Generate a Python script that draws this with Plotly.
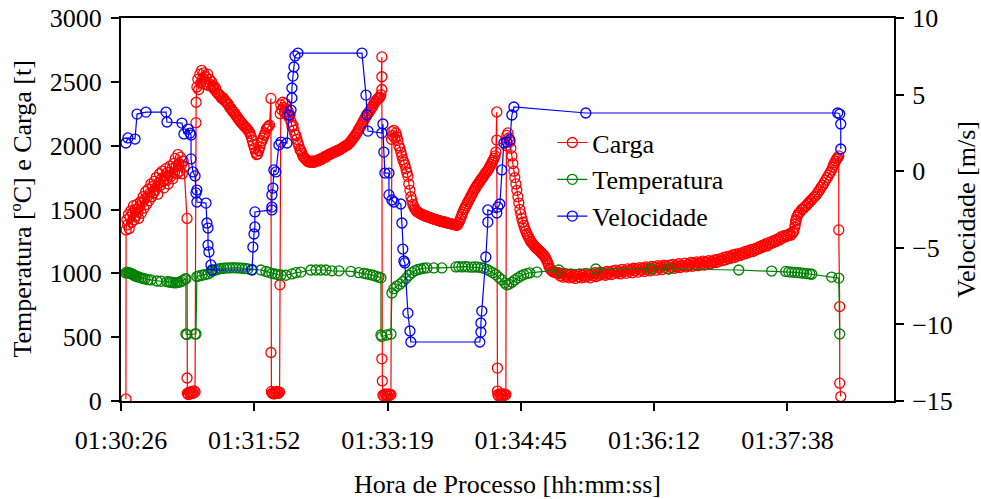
import plotly.graph_objects as go

# x = seconds after 01:30:26
tick_pos = [0, 86.4, 172.8, 259.2, 345.6, 432.0]
tick_labels = ["01:30:26", "01:31:52", "01:33:19", "01:34:45", "01:36:12", "01:37:38"]

carga_t = [3.2,
    3.3, 3.8, 4.3, 4.8, 5.3, 5.9, 6.4, 7.0, 7.5, 8.1, 8.6, 9.2, 9.7, 10.3, 10.9, 11.4, 12.0, 12.6, 13.1, 13.7,
    14.3, 14.8, 15.4, 16.0, 16.5, 17.1, 17.7, 18.2, 18.8, 19.4, 19.9, 20.5, 21.1, 21.6, 22.2, 22.8, 23.3, 23.9,
    24.5, 25.0, 25.6, 26.2, 26.7, 27.3, 27.9, 28.4, 29.0, 29.6, 30.1, 30.7, 31.3, 31.8, 32.4, 33.0, 33.5, 34.1,
    34.7, 35.2, 35.8, 36.4, 36.9, 37.5, 38.1, 38.6, 39.2, 39.8, 40.3, 40.9,
    42.8, 42.8, 43.0, 43.6, 44.2, 44.8, 45.4, 46.0, 46.7, 47.3, 48.0, 48.6, 48.7,
    49.2, 49.8, 50.4, 51.1, 51.7, 52.3, 53.0, 53.6, 54.2, 54.9, 55.5, 56.2, 56.8, 57.4,
    58.0, 58.7, 59.3, 60.0, 60.6, 61.3, 62.0, 62.7, 63.4, 64.1, 64.8, 65.5, 66.2, 66.9, 67.6, 68.3, 69.0, 69.7,
    70.4, 71.1, 71.8, 72.5, 73.2, 73.9, 74.6, 75.3, 76.0, 76.7, 77.4, 78.1, 78.8, 79.5, 80.2, 80.9, 81.6, 82.3,
    83.0, 83.7, 84.4, 85.1, 85.8, 86.5, 87.2, 87.9, 88.6, 89.3, 90.0, 90.7, 91.4, 92.1, 92.8, 93.5, 94.2, 94.9,
    95.6, 96.3,
    97.2, 97.2, 97.5, 98.0, 98.6, 99.2, 99.8, 100.4, 101.0, 101.6, 102.2, 102.8, 103.0, 103.2,
    103.6, 104.2, 104.8, 105.4, 106.0, 106.6, 107.2, 107.8, 108.4, 109.0, 109.6, 110.2, 110.8, 111.5, 112.1,
    112.7, 113.4, 114.0, 114.7, 115.3, 116.0, 116.6, 117.3, 117.9, 118.6, 119.2, 119.9, 120.5, 121.2, 121.8,
    122.5, 123.1, 123.8, 124.4, 125.1, 125.7, 126.4, 127.0, 127.7, 128.3, 129.0, 129.6, 130.3, 130.9, 131.6,
    132.2, 132.8, 133.5, 134.1, 134.8, 135.4, 136.1, 136.7, 137.4, 138.0, 138.7, 139.3, 140.0, 140.6, 141.3,
    141.9, 142.6, 143.2, 143.9, 144.5, 145.2, 145.8, 146.5, 147.1, 147.7, 148.4, 149.0, 149.7, 150.3, 151.0,
    151.6, 152.3, 152.9, 153.6, 154.2, 154.9, 155.5, 156.2, 156.8, 157.5, 158.1, 158.8, 159.4, 160.1, 160.7,
    161.4, 162.0, 162.7, 163.3, 164.0, 164.6, 165.3, 165.9, 166.6, 167.2, 167.9, 168.5,
    169.1, 169.1, 169.1, 169.1, 169.4, 169.8, 170.4, 171.1, 171.7, 172.4, 173.0, 173.7, 174.3, 175.0, 175.3,
    175.6, 176.2, 176.9, 177.5, 178.2, 178.8, 179.5, 180.1, 180.8, 181.4, 182.1, 182.7, 183.4, 184.0, 184.7,
    185.3, 186.0, 186.6, 187.3, 187.9, 188.6, 189.2, 189.9, 190.5, 191.2, 191.8, 192.5, 193.1, 193.8, 194.4,
    195.1, 195.7, 196.4, 197.0, 197.7, 198.3, 199.0, 199.6, 200.3, 200.9, 201.6, 202.2, 202.9, 203.5, 204.2,
    204.8, 205.5, 206.1, 206.8, 207.4, 208.1, 208.7, 209.4, 210.0, 210.7, 211.3, 212.0, 212.6, 213.3, 213.9,
    214.6, 215.2, 215.9, 216.5, 217.2, 217.8, 218.5, 219.1, 219.8, 220.4, 221.1, 221.7, 222.4, 223.0, 223.7,
    224.3, 225.0, 225.6, 226.3, 226.9, 227.6, 228.2, 228.9, 229.5, 230.2, 230.8, 231.5, 232.1, 232.8, 233.4,
    234.1, 234.7, 235.4, 236.0, 236.7, 237.3, 238.0, 238.6, 239.3, 239.9, 240.6, 241.2, 241.9, 242.5, 243.0,
    243.6, 243.6, 244.0, 244.0, 244.3, 244.9, 245.6, 246.2, 246.9, 247.5, 248.2, 248.8, 249.5, 249.8,
    250.1, 250.8, 251.4, 252.1, 252.7, 253.4, 254.0, 254.7, 255.3, 256.0, 256.6, 257.3, 257.9, 258.6, 259.2,
    259.8, 260.5, 261.1, 261.8, 262.4, 263.1, 263.7, 264.4, 265.0, 265.7, 266.3, 267.0, 267.6, 268.3, 268.9,
    269.6, 270.2, 270.9, 271.5, 272.2, 272.8, 273.5, 274.1, 274.8, 275.4, 276.0, 276.7, 277.3, 278.0, 278.6,
    279.3, 279.9, 280.6, 281.2, 281.9, 282.5, 283.2,
    283.8, 284.8, 285.8, 286.7, 287.7, 288.7, 289.7, 290.6, 291.6, 292.6, 293.5, 294.5, 295.5, 296.4, 297.4,
    298.4, 299.4, 300.3, 301.3, 302.3, 303.3, 304.2, 305.2, 306.2, 307.2, 308.1, 309.1, 310.0, 311.0, 312.0,
    313.0, 314.0, 314.9, 315.9, 316.9, 317.9, 318.8, 319.8, 320.8, 321.7, 322.7, 323.6, 324.6, 325.6, 326.6,
    327.5, 328.5, 329.5, 330.5, 331.4, 332.4, 333.4, 334.4, 335.3, 336.3, 337.3, 338.3, 339.2, 340.2, 341.1,
    342.1, 343.1, 344.1, 345.0, 346.0, 347.0, 348.0, 348.9, 349.9, 350.9, 351.9, 352.8, 353.8, 354.8, 355.8,
    356.7, 357.7, 358.7, 359.7, 360.6, 361.6, 362.5, 363.5, 364.5, 365.5, 366.4, 367.4, 368.4, 369.4, 370.3,
    371.3, 372.2, 373.2, 374.2, 375.2, 376.1, 377.1, 378.1, 379.1, 380.0, 381.0, 382.0, 383.0, 383.9, 384.9,
    385.9, 386.9, 387.8, 388.8, 389.7, 390.7, 391.7, 392.7, 393.6, 394.6, 395.6, 396.6, 397.5, 398.5, 399.5,
    400.5, 401.4, 402.4, 403.4, 404.4, 405.3, 406.3, 407.2, 408.2, 409.2, 410.2, 411.1, 412.1, 413.1, 414.1,
    415.0, 416.0, 417.0, 418.0, 418.9, 419.9, 420.8, 421.8, 422.8, 423.8, 424.7, 425.7, 426.7, 427.7, 428.6,
    429.6, 430.6, 431.6, 432.5, 433.5, 434.5, 435.5, 436.2, 436.8, 437.1, 437.4, 437.7, 438.0, 438.7, 439.3,
    440.3, 441.3, 442.2, 443.2, 444.2, 445.2, 446.1, 447.1, 448.1, 449.1, 450.0, 451.0, 452.0, 453.0, 453.9,
    454.9, 455.8, 456.8, 457.8, 458.8, 459.7, 460.7, 461.4, 462.0, 462.6, 463.3, 463.9, 464.6, 465.3,
    465.3, 465.9, 465.9, 466.6]

carga_v = [16,
    1340, 1420, 1380, 1460, 1350, 1440, 1490, 1400, 1470, 1530, 1420, 1500, 1450, 1540, 1480, 1430, 1520, 1560, 1470, 1550,
    1600, 1510, 1580, 1640, 1540, 1600, 1660, 1570, 1630, 1700, 1600, 1680, 1630, 1720, 1650, 1750, 1680, 1620,
    1710, 1780, 1690, 1740, 1800, 1720, 1670, 1760, 1820, 1730, 1790, 1700, 1770, 1840, 1760, 1820, 1740, 1860,
    1790, 1900, 1840, 1780, 1930, 1860, 1800, 1910, 1850, 1780, 1880, 1830,
    1430, 180, 60, 50, 70, 55, 65, 75, 60, 80, 70, 2180, 2340,
    2460, 2520, 2440, 2560, 2490, 2590, 2530, 2570, 2480, 2540, 2500, 2560, 2470, 2520,
    2480, 2500, 2460, 2470, 2440, 2450, 2420, 2410, 2400, 2395, 2380, 2370, 2375, 2355, 2350, 2340, 2330, 2320,
    2300, 2295, 2280, 2270, 2260, 2250, 2235, 2225, 2210, 2200, 2190, 2180, 2170, 2160, 2150, 2140, 2135, 2120,
    2110, 2095, 2070, 2040, 2010, 1980, 1950, 1930, 1935, 1960, 1990, 2020, 2040, 2060, 2080, 2100, 2130, 2140,
    2150, 2160,
    2370, 380, 75, 60, 65, 55, 70, 60, 75, 65, 60, 70, 910, 2250,
    2320, 2280, 2340, 2300, 2260, 2330, 2290, 2240, 2270, 2220, 2240, 2190, 2150, 2160, 2120,
    2090, 2080, 2050, 2020, 2000, 1970, 1960, 1940, 1920, 1910, 1900, 1890, 1885, 1875, 1880,
    1870, 1875, 1870, 1880, 1870, 1875, 1880, 1885, 1880, 1890, 1895, 1890, 1900, 1905, 1910,
    1915, 1910, 1920, 1925, 1930, 1935, 1935, 1940, 1945, 1950, 1950, 1955, 1960, 1965, 1965,
    1970, 1975, 1980, 1985, 1990, 1995, 2000, 2005, 2010, 2015, 2025, 2035, 2045, 2055, 2065,
    2075, 2090, 2100, 2115, 2130, 2140, 2155, 2170, 2185, 2200, 2215, 2225, 2240, 2255, 2260,
    2275, 2285, 2300, 2310, 2330, 2340, 2350, 2360, 2370, 2375, 2380, 2400,
    2695, 2540, 2440, 330, 157, 45, 40, 55, 45, 50, 40, 55, 45, 50, 2050,
    2110, 2080, 2120, 2060, 2100, 2070, 2040, 2000, 1980, 1950, 1920, 1890, 1870, 1850, 1820,
    1790, 1760, 1700, 1650, 1600, 1570, 1540, 1520, 1505, 1495, 1485, 1480, 1475, 1470, 1465,
    1460, 1458, 1455, 1450, 1448, 1445, 1442, 1440, 1437, 1433, 1430, 1428, 1425, 1422, 1420,
    1418, 1415, 1413, 1410, 1408, 1405, 1405, 1402, 1400, 1398, 1396, 1394, 1392, 1390, 1388,
    1386, 1384, 1382, 1380, 1378, 1376, 1385, 1400, 1420, 1440, 1460, 1480, 1500, 1515, 1530,
    1545, 1560, 1575, 1590, 1605, 1620, 1635, 1650, 1665, 1675, 1690, 1700, 1712, 1722, 1735,
    1745, 1755, 1768, 1780, 1790, 1800, 1812, 1825, 1840, 1855, 1870, 1885, 1900, 1920, 1950,
    2264, 2044, 258, 78, 50, 40, 55, 45, 50, 40, 55, 45, 50, 2000,
    2080, 2100, 2060, 2030, 1980, 1920, 1860, 1800, 1750, 1700, 1650, 1600, 1550, 1500, 1465,
    1430, 1400, 1375, 1350, 1330, 1310, 1295, 1280, 1265, 1250, 1240, 1230, 1220, 1210, 1200,
    1195, 1188, 1180, 1172, 1165, 1155, 1148, 1140, 1130, 1115, 1100, 1080, 1060, 1040, 1030,
    1020, 1015, 1010, 1008, 1005, 1003, 1002,
    1005, 980, 995, 970, 1000, 975, 990, 965, 995, 970, 985, 960, 990, 975, 995,
    965, 985, 970, 1000, 975, 990, 965, 995, 980, 1005, 975, 1000, 985, 1010, 990,
    1005, 985, 1015, 995, 1010, 990, 1020, 1000, 1025, 1005, 1015, 995, 1030, 1010, 1020,
    1000, 1035, 1015, 1030, 1005, 1040, 1020, 1035, 1010, 1045, 1025, 1040, 1015, 1050, 1030,
    1045, 1020, 1055, 1035, 1050, 1025, 1060, 1040, 1055, 1030, 1065, 1045, 1060, 1035, 1065,
    1045, 1070, 1040, 1060, 1050, 1075, 1045, 1065, 1055, 1080, 1050, 1070, 1060, 1085, 1055,
    1080, 1065, 1090, 1060, 1085, 1070, 1095, 1065, 1090, 1080, 1100, 1075, 1095, 1085, 1105,
    1085, 1110, 1095, 1115, 1100, 1125, 1105, 1130, 1115, 1135, 1120, 1145, 1125, 1150, 1135,
    1155, 1140, 1160, 1150, 1170, 1155, 1175, 1165, 1185, 1170, 1190, 1180, 1200, 1190, 1210,
    1200, 1220, 1210, 1230, 1215, 1240, 1230, 1250, 1240, 1260, 1250, 1270, 1260, 1285, 1275,
    1295, 1285, 1300, 1295, 1310, 1300, 1320, 1330, 1360, 1385, 1410, 1420, 1440, 1455, 1470,
    1480, 1500, 1505, 1520, 1530, 1545, 1555, 1570, 1580, 1595, 1605, 1620, 1640, 1655, 1675,
    1690, 1710, 1730, 1750, 1770, 1790, 1810, 1830, 1850, 1865, 1880, 1895, 1905, 1920,
    1340, 740, 140, 35]

temp_t = [3.2, 3.9, 4.5, 5.2, 5.8, 6.5, 7.1, 7.8, 8.4, 9.1, 9.7, 10.4, 11.7, 13.0, 14.3, 15.6, 17.5, 19.4,
    23.3, 25.9, 29.8, 31.1, 32.4, 33.7, 35.0, 36.3, 37.6, 38.9, 40.2, 41.5, 42.1,
    42.1, 42.8, 48.0, 48.6,
    49.2, 50.5, 52.5, 54.4, 56.4, 58.3, 59.6, 60.9, 62.2, 63.5, 64.8, 66.7, 68.7, 70.6, 72.6, 74.5, 76.5,
    78.4, 80.4, 82.3, 84.9, 90.7, 94.0, 95.9, 97.8, 99.8, 101.7, 103.7, 106.9, 110.8, 113.4, 116.6,
    123.1, 126.4, 129.6, 132.8, 136.7, 141.3, 149.0, 154.2, 157.5, 159.4, 161.4, 163.3, 165.2, 167.2, 168.5,
    168.5, 169.1, 172.4, 175.0,
    175.6, 176.9, 178.8, 180.8, 182.7, 184.7, 186.6, 188.6, 190.5, 192.5, 194.4, 196.3, 198.3, 202.8,
    208.0, 217.1, 219.0, 221.0, 222.9, 224.9, 227.4, 229.4, 231.3, 233.3, 235.2, 237.2, 239.1, 241.1,
    243.0, 244.9, 246.9, 248.8, 250.1, 251.4, 253.4, 255.3, 257.3, 259.2, 261.1, 263.1, 265.0, 269.6,
    283.8, 307.8, 343.4, 355.1, 400.5, 421.8, 430.9, 432.9, 434.8, 436.8, 438.7, 440.6, 442.6, 444.5,
    446.5, 447.8, 460.7, 465.3, 465.9]

temp_v = [1003, 1010, 1003, 1005, 1000, 998, 995, 990, 985, 980, 979, 975, 970, 965, 960, 956, 950, 948,
    940, 938, 935, 932, 930, 928, 925, 928, 930, 935, 945, 955, 958,
    525, 520, 525, 525,
    975, 980, 985, 990, 995, 1010, 1020, 1026, 1030, 1035, 1038, 1040, 1042, 1042, 1044, 1042, 1042,
    1040, 1038, 1035, 1030, 1026, 1015, 1008, 1000, 995, 990, 987, 985, 995, 1005, 1010,
    1026, 1026, 1026, 1026, 1020, 1020, 1015, 1005, 1000, 995, 990, 985, 978, 970, 965,
    517, 505, 517, 525,
    846, 880, 900, 915, 935, 960, 985, 1005, 1020, 1030, 1035, 1040, 1042, 1042,
    1042, 1050, 1052, 1050, 1052, 1050, 1048, 1050, 1048, 1045, 1040, 1030, 1018, 1005,
    990, 970, 950, 925, 910, 915, 930, 948, 965, 980, 990, 998, 1003, 1010,
    1026, 1034, 1034, 1034, 1026, 1018, 1015, 1012, 1010, 1008, 1005, 1003, 1000, 998,
    995, 993, 971, 963, 525]

vel_t = [3.2, 4.5, 9.1, 10.4, 16.2, 29.2, 29.8, 39.5, 40.8, 43.4, 44.7, 45.4, 45.4, 46.7, 48.0, 48.6,
    49.2, 49.2, 55.1, 55.7, 56.4, 56.4, 57.0, 58.3, 59.0, 84.9, 85.5, 86.2, 86.8, 86.8, 97.8, 97.8,
    97.8, 98.5, 99.1, 100.4, 102.4, 103.7, 107.6, 108.9, 110.2, 110.8, 110.8, 111.5, 112.1, 112.8,
    114.7, 156.2, 158.8, 159.4, 160.1, 169.1, 169.8, 170.4, 171.1, 173.7, 173.7, 175.6, 176.9, 181.4,
    182.1, 182.7, 183.4, 184.0, 186.0, 187.3, 187.9, 232.6, 233.3, 233.3, 233.9, 236.5, 237.8, 237.8,
    243.6, 244.3, 245.6, 246.9, 248.2, 250.1, 252.1, 253.4, 254.7, 301.3, 464.6, 465.9, 466.6, 466.6]

vel_v = [1.84, 2.17, 2.10, 3.73, 3.86, 3.86, 3.21, 3.14, 2.43, 2.75, 2.49, 2.36, 0.80, -0.05, -0.31, -1.42,
    -1.23, -2.01, -2.08, -3.38, -3.71, -4.82, -5.27, -6.12, -6.45, -6.45, -4.95, -4.10, -3.64, -2.66, -2.53, -2.34,
    -1.55, -1.10, 0.08, -0.05, 1.71, 1.90, 1.84, 3.67, 3.99, 4.78, 5.43, 6.21, 6.80, 7.52,
    7.71, 7.71, 4.97, 3.67, 2.62, 2.49, 3.08, 1.25, -0.12, -0.12, -1.55, -1.88, -2.01, -2.14,
    -3.38, -5.08, -5.86, -5.99, -9.26, -10.43, -11.15, -11.15, -10.50, -9.91, -9.13, -5.60, -3.32, -2.53,
    -2.73, -2.34, -2.14, 0.08, 1.84, 1.90, 2.04, 3.67, 4.19, 3.80, 3.80, 3.73, 3.08, 1.45]

FONT = "Liberation Serif"
fig = go.Figure()

def add(name, t, v, color, axis):
    fig.add_trace(go.Scatter(
        x=t, y=v, name=name, yaxis=axis, mode="lines+markers",
        line=dict(color=color, width=1.2),
        marker=dict(symbol="circle-open", size=10, color=color, line=dict(width=1.3, color=color)),
    ))

add("Carga", carga_t, carga_v, "#FF0000", "y")
add("Temperatura", temp_t, temp_v, "#008000", "y")
add("Velocidade", vel_t, vel_v, "#0000FF", "y2")

axis_common = dict(showgrid=False, zeroline=False, showline=True, linecolor="black", linewidth=2,
                   ticks="outside", ticklen=8, tickwidth=1.5, tickcolor="black", automargin=False,
                   ticklabeloverflow="allow",
                   tickfont=dict(family=FONT, size=26, color="black"))

fig.update_layout(
    width=981, height=499,
    margin=dict(l=121, r=87, t=18, b=98, autoexpand=False),
    paper_bgcolor="white", plot_bgcolor="white",
    font=dict(family=FONT, size=26, color="black"),
    showlegend=True,
    legend=dict(x=0.558, y=0.736, xanchor="left", yanchor="top", bgcolor="rgba(0,0,0,0)",
                font=dict(family=FONT, size=26), tracegroupgap=0, itemsizing="trace"),
    xaxis=dict(range=[0, 501.1], tickvals=tick_pos, ticktext=tick_labels, mirror=True, ticklabelstandoff=7,
               title=dict(text="Hora de Processo [hh:mm:ss]", font=dict(family=FONT, size=26), standoff=22),
               **axis_common),
    yaxis=dict(range=[0, 3000], dtick=500, ticklabelstandoff=4, **axis_common),
    yaxis2=dict(range=[-15, 10], dtick=5, overlaying="y", side="right", ticklabelstandoff=3,
                title=dict(text="Velocidade [m/s]", font=dict(family=FONT, size=26), standoff=18),
                **axis_common),
    annotations=[dict(text="Temperatura [ºC] e Carga [t]", xref="paper", yref="paper",
                      x=-0.128, y=0.5, xanchor="center", yanchor="middle", textangle=-90,
                      showarrow=False, font=dict(family=FONT, size=26, color="black"))],
)

fig.write_html("out.html", config={"displayModeBar": False},
               post_script="document.body.style.margin='0';document.body.style.overflow='hidden';")
